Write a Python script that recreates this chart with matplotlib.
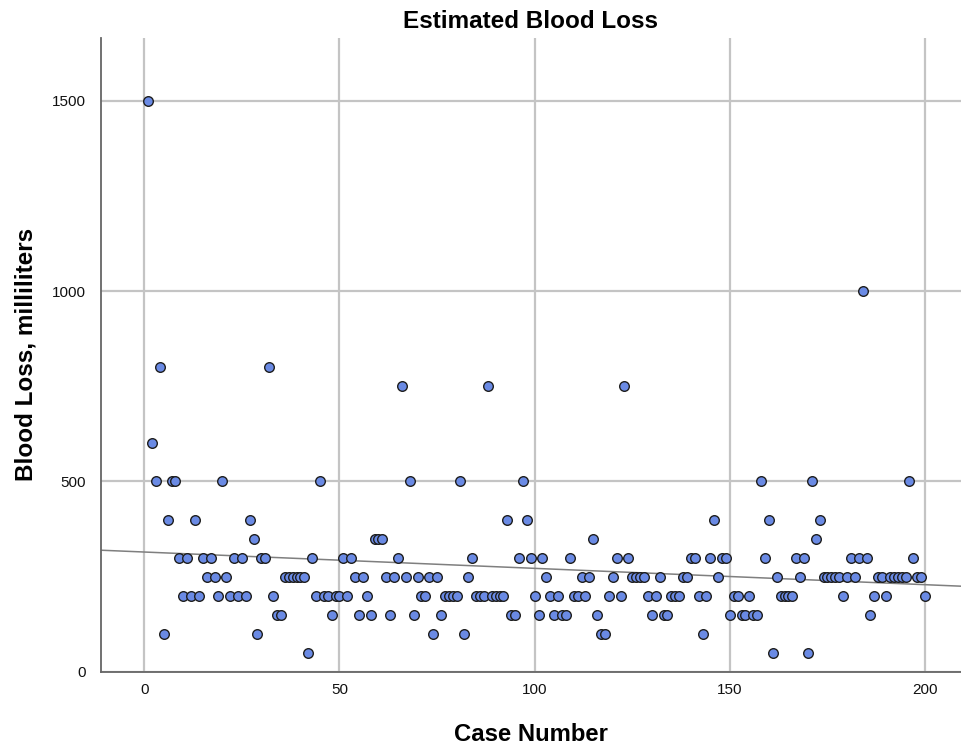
import numpy as np
import matplotlib
matplotlib.use("Agg")
import matplotlib.pyplot as plt

plt.rcParams['font.family'] = ['Liberation Sans', 'DejaVu Sans']

case_number = list(range(1, 201))
blood_loss = [
    1500, 600, 500, 800, 100, 400, 500, 500, 300, 200,      # 1-10
    300, 200, 400, 200, 300, 250, 300, 250, 200, 500,       # 11-20
    250, 200, 300, 200, 300, 200, 400, 350, 100, 300,       # 21-30
    300, 800, 200, 150, 150, 250, 250, 250, 250, 250,       # 31-40
    250, 50, 300, 200, 500, 200, 200, 150, 200, 200,        # 41-50
    300, 200, 300, 250, 150, 250, 200, 150, 350, 350,       # 51-60
    350, 250, 150, 250, 300, 750, 250, 500, 150, 250,       # 61-70
    200, 200, 250, 100, 250, 150, 200, 200, 200, 200,       # 71-80
    500, 100, 250, 300, 200, 200, 200, 750, 200, 200,       # 81-90
    200, 200, 400, 150, 150, 300, 500, 400, 300, 200,       # 91-100
    150, 300, 250, 200, 150, 200, 150, 150, 300, 200,       # 101-110
    200, 250, 200, 250, 350, 150, 100, 100, 200, 250,       # 111-120
    300, 200, 750, 300, 250, 250, 250, 250, 200, 150,       # 121-130
    200, 250, 150, 150, 200, 200, 200, 250, 250, 300,       # 131-140
    300, 200, 100, 200, 300, 400, 250, 300, 300, 150,       # 141-150
    200, 200, 150, 150, 200, 150, 150, 500, 300, 400,       # 151-160
    50, 250, 200, 200, 200, 200, 300, 250, 300, 50,         # 161-170
    500, 350, 400, 250, 250, 250, 250, 250, 200, 250,       # 171-180
    300, 250, 300, 1000, 300, 150, 200, 250, 250, 200,      # 181-190
    250, 250, 250, 250, 250, 500, 300, 250, 250, 200,       # 191-200
]
x_ticks = [0, 50, 100, 150, 200]
y_ticks = [0, 500, 1000, 1500]

x = np.array(case_number, dtype=float)
y = np.array(blood_loss, dtype=float)

fig = plt.figure(figsize=(9.61, 7.46), dpi=100)
ax = fig.add_axes([0.105, 0.0995, 0.895, 0.8495])

xlim = (-11.1, 209.2)
ax.set_xlim(*xlim)
ax.set_ylim(0, 1665)

ax.set_xticks(x_ticks)
ax.set_yticks(y_ticks)
ax.grid(True, color='#c4c4c4', linewidth=1.6)
ax.set_axisbelow(True)

# linear fit line
slope, intercept = np.polyfit(x, y, 1)
xl = np.array(xlim)
ax.plot(xl, intercept + slope * xl, color='#7f7f7f', linewidth=1.1, zorder=2)

ax.scatter(x, y, s=48, facecolor='#6a8ae4', edgecolor='#1e1e1e',
           linewidth=1.0, zorder=3)

for side in ['top', 'right']:
    ax.spines[side].set_visible(False)
for side in ['left', 'bottom']:
    ax.spines[side].set_color('#666666')
    ax.spines[side].set_linewidth(1.3)

ax.tick_params(axis='both', length=0, labelsize=11, colors='#111111', pad=8)
ax.tick_params(axis='y', pad=11)

ax.set_title('Estimated Blood Loss', fontsize=17.5, fontweight='bold', pad=7)
ax.set_xlabel('Case Number', fontsize=17.2, fontweight='bold', labelpad=19)
ax.set_ylabel('Blood Loss, milliliters', fontsize=17.5, fontweight='bold', labelpad=10)

fig.savefig('out.png', dpi=100)
